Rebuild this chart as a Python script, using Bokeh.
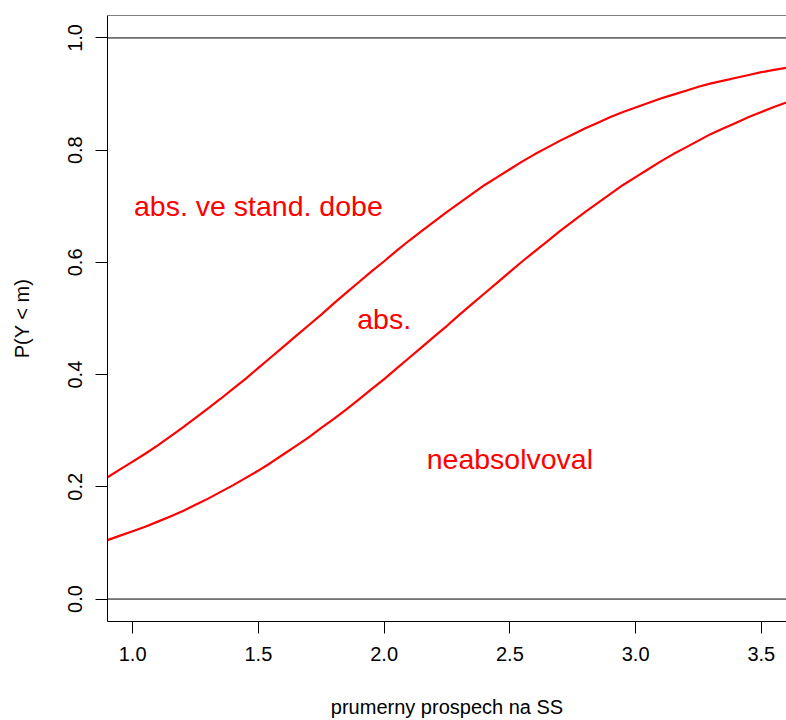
from bokeh.plotting import figure
from bokeh.models import Range1d, FixedTicker, PrintfTickFormatter, Span, ColumnDataSource
from bokeh.core.properties import value
from bokeh.embed import file_html
from bokeh.resources import INLINE

# average grade (x) and cumulative probabilities
grade = [0.90, 0.95, 1.00, 1.05, 1.10, 1.15, 1.20, 1.25, 1.30, 1.35, 1.40,
         1.45, 1.50, 1.55, 1.60, 1.65, 1.70, 1.75, 1.80, 1.85, 1.90, 1.95,
         2.00, 2.05, 2.10, 2.15, 2.20, 2.25, 2.30, 2.35, 2.40, 2.45, 2.50,
         2.55, 2.60, 2.65, 2.70, 2.75, 2.80, 2.85, 2.90, 2.95, 3.00, 3.05,
         3.10, 3.15, 3.20, 3.25, 3.30, 3.35, 3.40, 3.45, 3.50, 3.55, 3.60]
p_upper = [0.217, 0.231, 0.245, 0.259, 0.274, 0.290, 0.306, 0.323, 0.340,
           0.357, 0.375, 0.393, 0.412, 0.431, 0.450, 0.469, 0.488, 0.507,
           0.527, 0.546, 0.565, 0.584, 0.602, 0.621, 0.639, 0.656, 0.673,
           0.690, 0.706, 0.722, 0.738, 0.752, 0.766, 0.780, 0.793, 0.805,
           0.817, 0.828, 0.839, 0.849, 0.859, 0.868, 0.876, 0.884, 0.892,
           0.899, 0.906, 0.913, 0.919, 0.924, 0.929, 0.934, 0.939, 0.943, 0.947]
p_lower = [0.105, 0.113, 0.121, 0.129, 0.138, 0.147, 0.157, 0.168, 0.179,
           0.191, 0.203, 0.216, 0.229, 0.243, 0.258, 0.273, 0.288, 0.305,
           0.321, 0.338, 0.356, 0.374, 0.392, 0.411, 0.430, 0.449, 0.468,
           0.487, 0.507, 0.526, 0.545, 0.564, 0.583, 0.602, 0.620, 0.638,
           0.656, 0.673, 0.690, 0.706, 0.722, 0.738, 0.752, 0.766, 0.780,
           0.793, 0.805, 0.817, 0.829, 0.839, 0.849, 0.859, 0.868, 0.877, 0.885]

label_text = ["abs. ve stand. dobe", "abs.", "neabsolvoval"]
label_x = [1.5, 2.0, 2.5]
label_y = [0.70, 0.50, 0.25]

x_ticks = [1.0, 1.5, 2.0, 2.5, 3.0, 3.5]
y_ticks = [0.0, 0.2, 0.4, 0.6, 0.8, 1.0]

FONT = "Liberation Sans"

p = figure(width=786, height=720, output_backend="svg", toolbar_location=None,
           x_range=Range1d(0.9, 3.6), y_range=Range1d(-0.04, 1.04),
           min_border_left=107, min_border_right=0, min_border_top=15,
           min_border_bottom=99)
p.outline_line_color = None
p.xgrid.visible = False
p.ygrid.visible = False
p.background_fill_color = "white"
p.border_fill_color = "white"

for ax in (p.xaxis[0], p.yaxis[0]):
    ax.axis_line_color = "black"
    ax.axis_line_width = 1
    ax.major_tick_line_color = "black"
    ax.major_tick_out = 12
    ax.major_tick_in = 0
    ax.minor_tick_line_color = None
    ax.major_label_text_font = FONT
    ax.major_label_text_font_size = "20px"
    ax.major_label_text_color = "black"
    ax.axis_label_text_font = FONT
    ax.axis_label_text_font_size = "20px"
    ax.axis_label_text_font_style = "normal"
    ax.axis_label_text_color = "black"
    ax.formatter = PrintfTickFormatter(format="%.1f")

p.xaxis[0].ticker = FixedTicker(ticks=x_ticks)
p.yaxis[0].ticker = FixedTicker(ticks=y_ticks)
p.xaxis[0].axis_label = "prumerny prospech na SS"
p.yaxis[0].axis_label = "P(Y < m)"
p.xaxis[0].major_label_standoff = 13
p.xaxis[0].axis_label_standoff = 32
p.yaxis[0].major_label_standoff = 13
p.yaxis[0].axis_label_standoff = 33
p.yaxis[0].major_label_orientation = "vertical"

# top border of the box and horizontal reference lines
p.add_layout(Span(location=1.04, dimension="width", line_color="black", line_width=1))
p.add_layout(Span(location=0.0, dimension="width", line_color="black", line_width=1))
p.add_layout(Span(location=1.0, dimension="width", line_color="black", line_width=1))

src = ColumnDataSource(dict(x=grade, up=p_upper, lo=p_lower))
p.line("x", "up", source=src, line_color="red", line_width=2.2)
p.line("x", "lo", source=src, line_color="red", line_width=2.2)

lsrc = ColumnDataSource(dict(x=label_x, y=label_y, t=label_text))
p.text("x", "y", text="t", source=lsrc, text_color="red",
       text_font=value(FONT), text_font_size="28.5px",
       text_align="center", text_baseline="middle")

open("out.html", "w").write(file_html(p, INLINE))
